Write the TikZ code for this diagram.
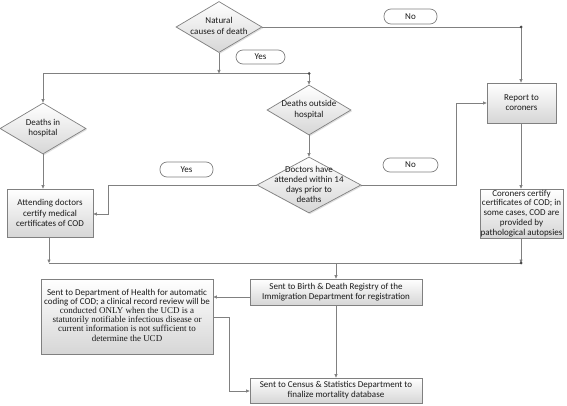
\documentclass[tikz,border=0pt]{standalone}
\usepackage{fontspec}
\setmainfont{Carlito}
\newfontfamily\tnr{Liberation Serif}
\usetikzlibrary{arrows.meta,shapes.geometric,shadows}
\definecolor{ln}{HTML}{808080}
\definecolor{tx}{HTML}{1a1a1a}
\tikzset{
  base/.style={draw=ln, line width=0.7pt, top color=white, bottom color=black!16,
    drop shadow={opacity=0.25, shadow xshift=1.2pt, shadow yshift=-1.2pt}},
  box/.style={base, rectangle, inner sep=0pt, align=center, text=tx,
    font=\fontsize{9}{10.2}\selectfont},
  dia/.style={base, diamond, inner sep=0pt},
  dtext/.style={align=center, text=tx, inner sep=0pt, font=\fontsize{9}{10.6}\selectfont},
  tag/.style={draw=ln, line width=0.7pt, fill=white, rounded corners=7pt, inner sep=0pt,
    text=tx, font=\fontsize{9}{10}\selectfont},
  conn/.style={draw=ln, line width=0.7pt},
  arr/.style={conn, -{Triangle[length=3.5pt,width=3pt]}},
  dotc/.style={circle, fill=tx!80, inner sep=0pt, minimum size=3pt}
}
\newcommand{\tr}{\tnr\fontsize{9}{9.1}\selectfont}
\begin{document}
\begin{tikzpicture}[x=1pt,y=-1pt]
\useasboundingbox[fill=white] (0,0) rectangle (567,406);

% diamonds
\node[dia, minimum width=86pt, minimum height=51pt] (nat) at (219,27) {};
\node[dtext] (natT) at (219,26) {Natural\\causes of death};
\node[dia, minimum width=86pt, minimum height=51pt] (dh) at (43,128.5) {};
\node[dtext] (dhT) at (43,128) {Deaths in\\hospital};
\node[dia, minimum width=84pt, minimum height=50pt] (doh) at (309,110) {};
\node[dtext] (dohT) at (309,109.5) {Deaths outside\\hospital};
\node[dia, minimum width=104pt, minimum height=56pt] (doc) at (309,185) {};
\node[dtext, font=\fontsize{9}{10}\selectfont] (docT) at (309,184.5) {Doctors have\\attended within 14\\days prior to\\deaths};

% boxes
\node[box, minimum width=69pt, minimum height=40pt] (rep) at (521.5,103) {Report to\\coroners};
\node[box, minimum width=86pt, minimum height=48pt, font=\fontsize{9}{10.6}\selectfont] (att) at (50,213) {Attending doctors\\certify medical\\certificates of COD};
\node[box, minimum width=83pt, minimum height=49pt, font=\fontsize{9}{9.9}\selectfont] (cor) at (521.5,213.5) {Coroners certify\\certificates of COD; in\\some cases, COD are\\provided by\\pathological autopsies};
\node[box, minimum width=172pt, minimum height=26pt] (reg) at (336,292) {Sent to Birth \& Death Registry of the\\Immigration Department for registration};
\node[box, minimum width=172pt, minimum height=75pt, font=\fontsize{9}{9.1}\selectfont] (dep) at (127,316.5) {\begin{tabular}{@{}c@{}}Sent to Department of Health for automatic\\coding of COD; a clinical record review will be\\\tr conducted ONLY when the UCD is a\\\tr statutorily notifiable infectious disease or\\\tr current information is not sufficient to\\\tr determine the UCD\end{tabular}};
\node[box, minimum width=172pt, minimum height=25pt] (cen) at (336,390.5) {Sent to Census \& Statistics Department to\\finalize mortality database};

% junctions
\coordinate (jNo) at (521,27);
\coordinate (jTop) at (219,73.5);
\coordinate (jL) at (43,73.5);
\coordinate (jR) at (309,73.5);
\coordinate (jBL) at (49,263);
\coordinate (jBR) at (521,263);
\coordinate (jBM) at (336,263);

% connectors
\draw[conn] (nat.east) -- (jNo);
\draw[arr] (jNo) -- (rep.north -| jNo);
\node[dotc] (dNo) at (jNo) {};
\draw[arr] (nat.south) -- (jTop);
\draw[conn] (jL) -- (jR);
\draw[arr] (jL) -- (dh.north);
\draw[arr] (jR) -- (doh.north);
\node[dotc] (dR) at (jR) {};
\draw[arr] (doh.south) -- (doc.north);
\draw[arr] (doc.west) -- (108,185) -- (108,214) -- (att.east |- 0,214);
\draw[arr] (doc.east) -- (456,185) -- (456,103) -- (rep.west);
\draw[arr] (dh.south) -- (dh.south |- att.north);
\draw[arr] (rep.south -| 521,0) -- (cor.north -| 521,0);
\draw[arr] (att.south -| jBL) -- (jBL);
\draw[conn] (jBL) -- (jBR);
\draw[arr] (cor.south -| jBR) -- (jBR);
\node[dotc] (dBR) at (jBR) {};
\draw[arr] (jBM) -- (reg.north);
\draw[arr] ([yshift=-5pt]reg.west) -- ([yshift=-5pt]reg.west -| dep.east);
\draw[arr] (dep.east |- 0,317) -- (229,317) -- (229,391) -- (cen.west |- 0,391);
\draw[arr] (reg.south) -- (cen.north);

% tags
\node[tag, minimum width=53pt, minimum height=15pt] (no1) at (410.5,16.5) {No};
\node[tag, minimum width=49pt, minimum height=14pt] (yes1) at (260.5,57) {Yes};
\node[tag, minimum width=53pt, minimum height=15pt] (yes2) at (186.5,169.5) {Yes};
\node[tag, minimum width=55pt, minimum height=14pt] (no2) at (410.5,165) {No};
\end{tikzpicture}
\end{document}
